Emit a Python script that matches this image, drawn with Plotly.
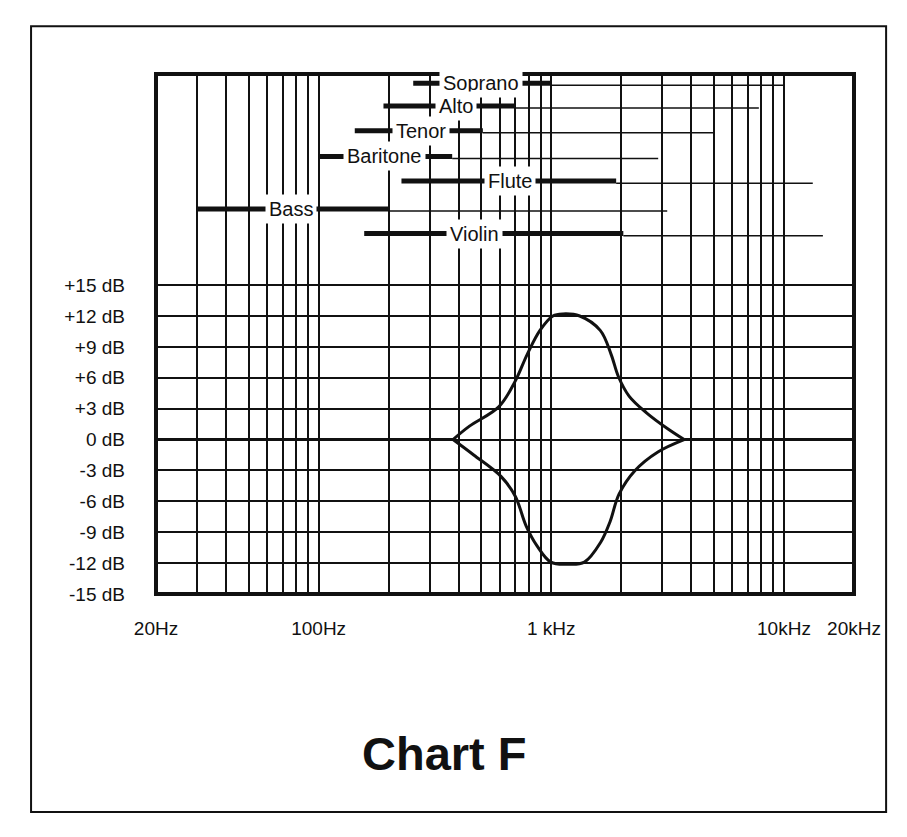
"""
Chart F: EQ boost / cut curve with instrument and voice ranges.
"""

import numpy as np
import plotly.graph_objects as go

# ── Axis data ──────────────────────────────────────────────────────────────────
GRID_HZ = [20, 30, 40, 50, 60, 70, 80, 90,
           100, 200, 300, 400, 500, 600, 700, 800, 900,
           1000, 2000, 3000, 4000, 5000, 6000, 7000, 8000, 9000,
           10000, 20000]
LABELED_HZ = {20: "20Hz", 100: "100Hz", 1000: "1 kHz", 10000: "10kHz", 20000: "20kHz"}

DB_TICKS = [-15, -12, -9, -6, -3, 0, 3, 6, 9, 12, 15]
DB_TEXT = ["-15 dB", "-12 dB", "-9 dB", "-6 dB", "-3 dB", "0 dB",
           "+3 dB", "+6 dB", "+9 dB", "+12 dB", "+15 dB"]

# ── Response curves ────────────────────────────────────────────────────────────
flat_hz = [20, 378, None, 3724, 20000]
flat_db = [0, 0, None, 0, 0]

boost_hz = [378, 445, 596, 697, 789, 894, 1016, 1122, 1325, 1623, 1806, 1944, 2163, 2566, 3142, 3724]
boost_db = [0, 1.3, 3.2, 5.6, 8.3, 10.6, 12.0, 12.2, 12.0, 10.6, 8.3, 6.1, 4.2, 2.6, 1.1, 0]

cut_hz = [378, 464, 609, 700, 780, 867, 995, 1178, 1388, 1628, 1787, 1955, 2291, 2872, 3724]
cut_db = [0, -1.5, -3.6, -5.5, -8.4, -10.3, -11.9, -12.1, -11.9, -10.0, -8.0, -5.3, -3.0, -1.2, 0]

# ── Instrument ranges (fundamentals = thick bar, harmonics = thin line) ────────
instruments = ["Soprano", "Alto", "Tenor", "Baritone", "Flute", "Bass", "Violin"]
row_db      = [34.6, 32.4, 30.0, 27.5, 25.1, 22.4, 20.0]
fund_lo_hz  = [255, 190, 143, 100, 227, 30, 157]
fund_hi_hz  = [1000, 700, 508, 375, 1900, 200, 2040]
harm_hi_hz  = [10000, 7800, 5000, 2880, 13300, 3150, 14700]
label_hz    = [501, 388, 275, 191, 665, 76, 467]

FONT = "Liberation Sans, Arial, Helvetica, sans-serif"
INK = "#111111"

fig = go.Figure()

# harmonics leader lines (sit on the lower edge of the bars)
for y, hi, top in zip(row_db, fund_hi_hz, harm_hi_hz):
    fig.add_trace(go.Scatter(x=[hi, top], y=[y - 0.2, y - 0.2], mode="lines",
                             line=dict(color=INK, width=1.5), hoverinfo="skip"))

# fundamentals bars
for y, lo, hi in zip(row_db, fund_lo_hz, fund_hi_hz):
    fig.add_trace(go.Scatter(x=[lo, hi], y=[y, y], mode="lines",
                             line=dict(color=INK, width=5), hoverinfo="skip"))

# flat 0 dB response outside the band
fig.add_trace(go.Scatter(x=flat_hz, y=flat_db, mode="lines",
                         line=dict(color=INK, width=3), hoverinfo="skip"))
for hz, db in ((boost_hz, boost_db), (cut_hz, cut_db)):
    fig.add_trace(go.Scatter(x=hz, y=db, mode="lines",
                             line=dict(color=INK, width=3, shape="spline", smoothing=1.0),
                             hoverinfo="skip"))

# instrument labels with white boxes hiding the grid behind them
for name, y, hz in zip(instruments, row_db, label_hz):
    fig.add_annotation(x=np.log10(hz), y=y, text=name, showarrow=False,
                       font=dict(family=FONT, size=20, color=INK),
                       bgcolor="white", borderpad=3)

# title
fig.add_annotation(x=0.414, y=-0.306, xref="paper", yref="paper", text="<b>Chart F</b>",
                   showarrow=False, xanchor="center", yanchor="middle",
                   font=dict(family=FONT, size=47, color=INK))

# plot border and page frame
fig.add_shape(type="rect", xref="paper", yref="paper", x0=0, x1=1, y0=0, y1=1,
              line=dict(color=INK, width=4), layer="above")
fig.add_shape(type="rect", xref="paper", yref="paper", x0=-0.179, x1=1.046, y0=-0.419, y1=1.092,
              line=dict(color=INK, width=2))

# the page body adds an 8px offset, so the margins are shifted to compensate
fig.update_layout(
    width=907, height=837,
    margin=dict(l=148, r=61, t=66, b=251),
    paper_bgcolor="white", plot_bgcolor="white",
    showlegend=False,
    font=dict(family=FONT, size=19, color=INK),
)
fig.update_xaxes(
    type="log", range=[np.log10(20), np.log10(20000)],
    tickmode="array", tickvals=GRID_HZ,
    ticktext=[LABELED_HZ.get(v, "") for v in GRID_HZ],
    showgrid=True, gridcolor=INK, gridwidth=1.5,
    ticks="", ticklabelstandoff=21, zeroline=False, showline=False,
    tickfont=dict(family=FONT, size=19, color=INK),
)
fig.update_yaxes(
    range=[-15, 35.5],
    tickmode="array", tickvals=DB_TICKS, ticktext=DB_TEXT,
    showgrid=True, gridcolor=INK, gridwidth=1.5,
    ticks="", ticklabelstandoff=30, zeroline=False, showline=False,
    tickfont=dict(family=FONT, size=19, color=INK),
)

fig.write_html("out.html")
